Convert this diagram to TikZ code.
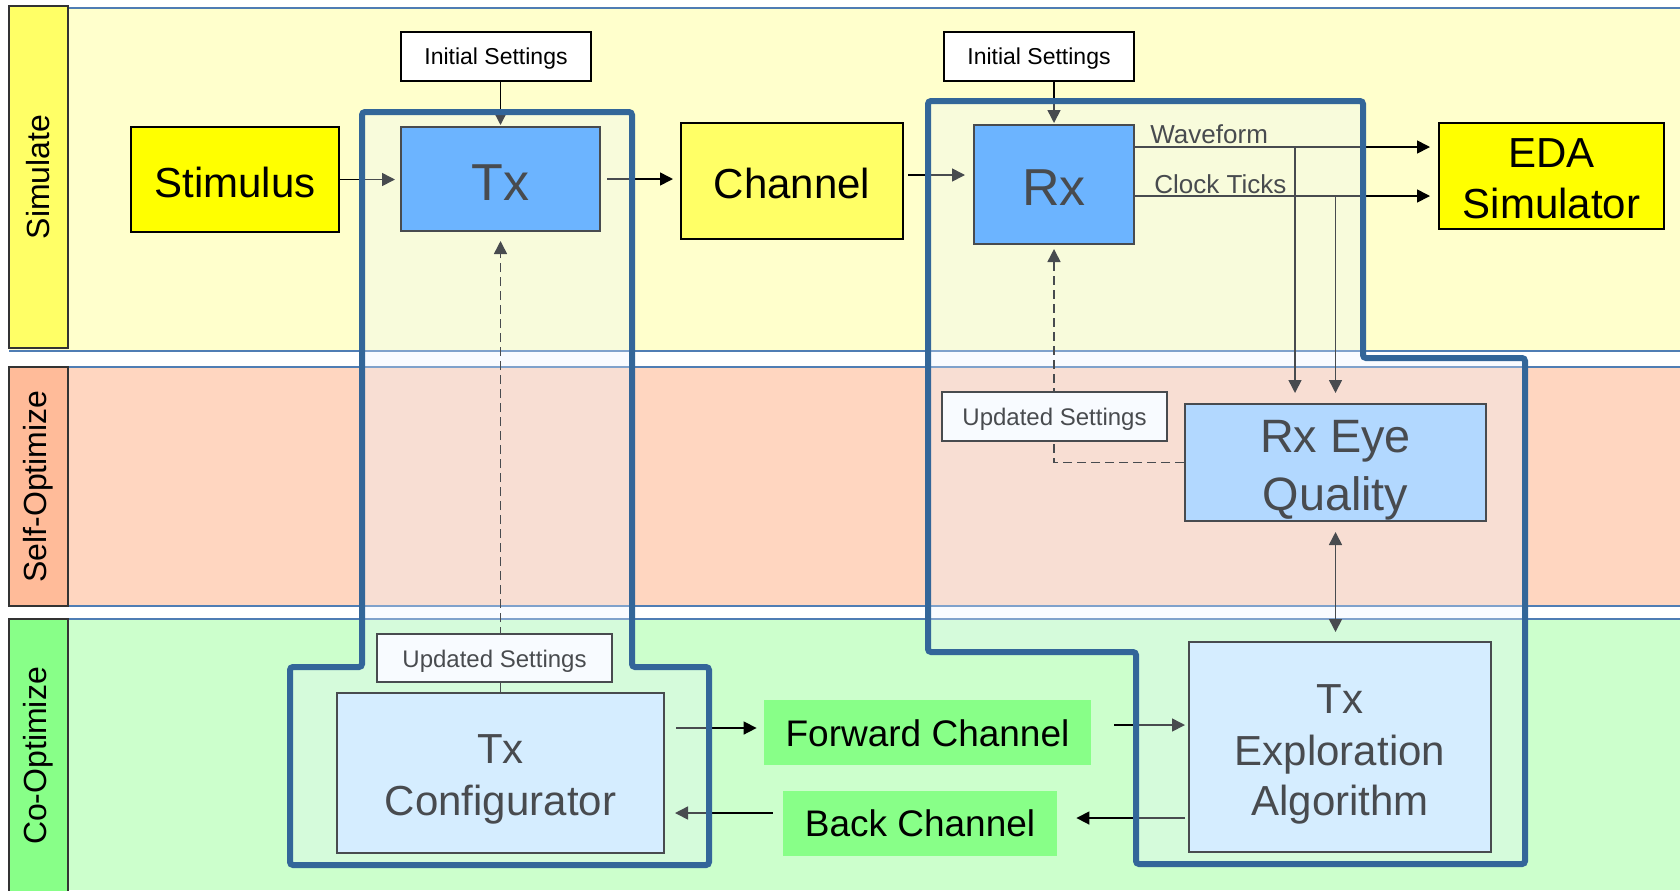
\documentclass[tikz,border=0pt]{standalone}
\usepackage{fontspec}
\setmainfont{Liberation Sans}
\usepackage{tikz}
\usetikzlibrary{arrows.meta}
\definecolor{simcolor}{RGB}{255,255,204}
\definecolor{simlabel}{RGB}{255,255,102}
\definecolor{selfcolor}{RGB}{255,214,192}
\definecolor{selflabel}{RGB}{255,187,153}
\definecolor{cocolor}{RGB}{204,255,204}
\definecolor{colabel}{RGB}{136,255,136}
\definecolor{bandline}{RGB}{79,125,180}
\definecolor{txcolor}{RGB}{51,153,255}
\definecolor{eyecolor}{RGB}{153,204,255}
\definecolor{cfgcolor}{RGB}{204,235,255}
\definecolor{chancolor}{RGB}{255,255,102}
\definecolor{edacolor}{RGB}{255,255,0}
\definecolor{linkcolor}{RGB}{136,255,136}
\definecolor{framecolor}{RGB}{51,102,153}
\definecolor{frameglass}{RGB}{235,243,255}

\begin{document}
\begin{tikzpicture}[x=0.5pt, y=-0.5pt,
    bandlabel/.style={draw=black!80, line width=1pt, rotate=90, inner sep=0pt,
                      minimum height=29.5pt, font=\fontsize{16pt}{19pt}\selectfont},
    yellowbox/.style={draw=black, line width=1pt, inner sep=0pt, text depth=0pt,
                      font=\fontsize{21pt}{25.5pt}\selectfont},
    bluebox/.style={draw=black, line width=1pt, inner sep=0pt, text depth=0pt,
                    font=\fontsize{26pt}{31pt}\selectfont},
    boxtext/.style={inner sep=0pt, anchor=base, font=\fontsize{21pt}{25.5pt}\selectfont},
    setbox/.style={fill=white, draw=black, line width=0.75pt, inner sep=0pt, text depth=0pt,
                   font=\fontsize{11.5pt}{14pt}\selectfont},
    linkbox/.style={fill=linkcolor, inner sep=0pt, text depth=0pt,
                    font=\fontsize{18.5pt}{22pt}\selectfont},
    wirelabel/.style={inner sep=0pt, font=\fontsize{13pt}{15pt}\selectfont},
    arr/.style={-{Triangle[length=6.5pt, width=6.5pt]}, line width=0.8pt},
    dbarr/.style={{Triangle[length=6.5pt, width=6.5pt]}-{Triangle[length=6.5pt, width=6.5pt]}, line width=0.8pt},
    dasharr/.style={arr, dash pattern=on 4.5pt off 2.5pt},
    glassframe/.style={draw=framecolor, line width=3pt, fill=frameglass, fill opacity=0.31,
                       rounded corners=1.5pt}
]
\useasboundingbox (0,0) rectangle (1680,890);

% Bands
\fill[simcolor] (9,8) rectangle (1680,351);
\fill[selfcolor] (9,367) rectangle (1680,606);
\fill[cocolor] (9,619) rectangle (1680,890);
\draw[bandline, line width=0.8pt] (9,8) -- (1680,8) (9,351) -- (1680,351)
    (9,367) -- (1680,367) (9,606) -- (1680,606) (9,619) -- (1680,619);
\node[bandlabel, fill=simlabel, minimum width=171pt] (simband) at (38.5,177) {Simulate};
\node[bandlabel, fill=selflabel, minimum width=119.5pt] (selfband) at (38.5,486.5) {Self-Optimize};
\node[bandlabel, fill=colabel, minimum width=137pt] (coband) at (38,756) {Co-Optimize};

% Simulate row
\node[yellowbox, fill=edacolor, minimum width=104pt, minimum height=52.5pt, text height=17.5pt] (stim) at (235,179.5) {Stimulus};
\node[bluebox, fill=txcolor, minimum width=99.5pt, minimum height=52pt, text height=21pt] (tx) at (500.5,179) {Tx};
\node[yellowbox, fill=chancolor, minimum width=111pt, minimum height=58pt, text height=17.3pt] (chan) at (792,181) {Channel};
\node[bluebox, fill=txcolor, minimum width=80pt, minimum height=59.5pt, text height=20.5pt] (rx) at (1054,184.5) {Rx};
\node[yellowbox, fill=edacolor, minimum width=112.5pt, minimum height=53pt] (eda) at (1551.5,176) {};
\node[boxtext] (edaline1) at (1551.5,167) {EDA};
\node[boxtext] (edaline2) at (1551.5,218) {Simulator};
\node[setbox, minimum width=95pt, minimum height=24.5pt, text height=7.8pt] (initx) at (496,56.5) {Initial Settings};
\node[setbox, minimum width=95pt, minimum height=24.5pt, text height=7.8pt] (inirx) at (1039,56.5) {Initial Settings};
\node[wirelabel, anchor=base west] (wflabel) at (1150,143) {Waveform};
\node[wirelabel, anchor=base west] (cklabel) at (1154,193) {Clock Ticks};

% Optimize rows
\node[bluebox, fill=eyecolor, minimum width=150.5pt, minimum height=58.5pt] (eye) at (1335.5,462.5) {};
\node[boxtext, font=\fontsize{23.4pt}{29pt}\selectfont] (eyeline1) at (1335.5,452) {Rx Eye};
\node[boxtext, font=\fontsize{23.4pt}{29pt}\selectfont] (eyeline2) at (1335.5,510) {Quality};
\node[bluebox, fill=cfgcolor, minimum width=163.5pt, minimum height=80pt] (txcfg) at (500.5,773) {};
\node[boxtext] (cfgline1) at (500.5,763) {Tx};
\node[boxtext] (cfgline2) at (500.5,815) {Configurator};
\node[bluebox, fill=cfgcolor, minimum width=151pt, minimum height=105pt] (txexp) at (1340,747) {};
\node[boxtext] (expline1) at (1340,713) {Tx};
\node[boxtext] (expline2) at (1340,765) {Exploration};
\node[boxtext] (expline3) at (1340,815) {Algorithm};
\node[linkbox, minimum width=163.5pt, minimum height=32.5pt, text height=13.5pt] (fwd) at (927.5,732.5) {Forward Channel};
\node[linkbox, minimum width=137pt, minimum height=32.5pt, text height=13.2pt] (back) at (920,823.5) {Back Channel};

% Arrows
\coordinate (chout) at ([yshift=3pt]chan.east);
\coordinate (wf) at ([yshift=18.75pt]rx.east);
\coordinate (ck) at ([yshift=-5.75pt]rx.east);
\coordinate (wfdrop) at ([xshift=-20.25pt]eye.north);
\coordinate (fwin) at ([yshift=2.25pt]fwd.west);
\coordinate (fwout) at ([yshift=3.75pt]fwd.east);
\coordinate (bkin) at ([yshift=2.75pt]back.east);
\coordinate (bkout) at ([yshift=5.25pt]back.west);
\draw[arr, shorten >=2.5pt] (stim.east) -- (stim.east -| tx.west);
\draw[arr, shorten <=3pt, shorten >=3.5pt] (tx.east) -- (tx.east -| chan.west);
\draw[arr, shorten <=2pt, shorten >=4pt] (chout) -- (chout -| rx.west);
\draw[arr, shorten >=0.5pt] (initx.south -| tx.north) -- (tx.north);
\draw[arr, shorten >=0.5pt] (inirx.south -| rx.north) -- (rx.north);
\draw[arr, shorten >=4pt] (wf) -- (wf -| eda.west);
\draw[arr, shorten >=4pt] (ck) -- (ck -| eda.west);
\draw[arr, shorten >=5pt] (wfdrop |- wf) -- (wfdrop);
\draw[arr, shorten >=5pt] (eye.north |- ck) -- (eye.north);
\draw[dbarr, shorten <=5pt, shorten >=4.5pt] (eye.south) -- (eye.south |- txexp.north);
\draw[dasharr, shorten >=2pt] (eye.west) -| (rx.south);
\draw[dasharr, shorten >=4.5pt] (txcfg.north) -- (tx.south);
\draw[arr, shorten <=5.5pt, shorten >=3.5pt] (fwin -| txcfg.east) -- (fwin);
\draw[arr, shorten <=5pt, shorten >=5pt] (bkout) -- (bkout -| txcfg.east);
\draw[arr, shorten <=11.5pt, shorten >=1.5pt] (fwout) -- (fwout -| txexp.west);
\draw[arr, shorten <=1.5pt, shorten >=9.5pt] (bkin -| txexp.west) -- (bkin);

% Updated settings boxes sit over the dashed lines
\node[setbox, font=\fontsize{12pt}{14pt}\selectfont, minimum width=117.5pt, minimum height=24pt, text height=9.3pt] (updtx) at (494.5,658) {Updated Settings};
\node[setbox, font=\fontsize{12pt}{14pt}\selectfont, minimum width=112.5pt, minimum height=24.5pt, text height=8.8pt] (updrx) at (1054.5,416.5) {Updated Settings};

% Tx and Rx frames
\draw[glassframe] (362,112) -- (632,112) -- (632,667) -- (709,667) -- (709,865) -- (290,865)
    -- (290,667) -- (362,667) -- cycle;
\draw[glassframe] (928,101) -- (1363,101) -- (1363,358) -- (1525,358) -- (1525,864) -- (1136,864)
    -- (1136,652) -- (928,652) -- cycle;

\end{tikzpicture}
\end{document}
